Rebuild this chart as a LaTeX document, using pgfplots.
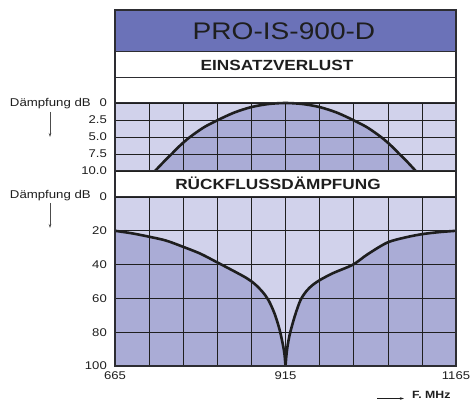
\documentclass[border=0pt]{standalone}
\usepackage{fontspec}
\setmainfont[FakeStretch=1.17]{Liberation Sans}
\usepackage{pgfplots}
\pgfplotsset{compat=1.18}
\usetikzlibrary{arrows.meta}
\definecolor{bandblue}{RGB}{107,114,184}
\definecolor{lightb}{RGB}{209,210,235}
\definecolor{darkb}{RGB}{170,172,214}
\definecolor{txt}{RGB}{30,30,30}
\definecolor{frame}{RGB}{45,45,50}

\pgfplotsset{
  chartgrid/.style={
    scale only axis, width=341pt,
    xmin=665, xmax=1165, y dir=reverse,
    xtick={665,715,...,1165},
    major tick length=0pt,
    grid=major,
    grid style={line width=0.6pt, color=black!88},
    axis line style={line width=1pt, color=frame},
    axis background/.style={fill=lightb},
    axis on top,
    tick label style={font=\fontsize{11.2}{13}\selectfont, text=txt},
    yticklabel style={inner sep=0pt, xshift=-8pt},
    xticklabel style={inner sep=0pt, yshift=-5.5pt},
    clip=false,
  }
}

\begin{document}
\begin{tikzpicture}[x=1pt,y=1pt]
\useasboundingbox (0,0) rectangle (471,401);

% title band
\fill[bandblue] (115,349) rectangle (456,391);
\node[text=txt, font=\fontsize{24}{28}\selectfont] at (284,370) {PRO-IS-900-D};
\node[text=txt, font=\fontsize{14.7}{17}\selectfont\bfseries] at (277,336) {EINSATZVERLUST};
\node[text=txt, font=\fontsize{14.7}{17}\selectfont\bfseries] at (278,217.5) {RÜCKFLUSSDÄMPFUNG};

% insertion loss
\begin{axis}[chartgrid, at={(115pt,230pt)}, anchor=south west, height=68pt,
  ymin=0, ymax=10,
  xticklabels={},
  ytick={0,2.5,5,7.5,10},
  yticklabels={0,2.5,5.0,7.5,10.0}]
  \addplot[fill=darkb, draw=none] coordinates {
    (723.7,10) (736,8.7) (748,7.5) (761,6.2) (775,5) (795,3.6) (816,2.5)
    (840,1.4) (865,0.6) (890,0.15) (915,0) (940,0.15) (965,0.6) (990,1.4)
    (1014,2.5) (1035,3.6) (1055,5) (1069,6.2) (1082,7.5) (1094,8.7) (1106,10)
  } -- cycle;
  \addplot[smooth, line width=2.6pt, color=txt] coordinates {
    (723.7,10) (736,8.7) (748,7.5) (761,6.2) (775,5) (795,3.6) (816,2.5)
    (840,1.4) (865,0.6) (890,0.15) (915,0) (940,0.15) (965,0.6) (990,1.4)
    (1014,2.5) (1035,3.6) (1055,5) (1069,6.2) (1082,7.5) (1094,8.7) (1106,10)
  };
\end{axis}

% return loss
\begin{axis}[chartgrid, at={(115pt,35pt)}, anchor=south west, height=169pt,
  ymin=0, ymax=100,
  xticklabels={665,{},{},{},{},915,{},{},{},{},1165},
  ytick={0,20,40,60,80,100},
  yticklabels={0,20,40,60,80,100}]
  \addplot[fill=darkb, draw=none] coordinates {
    (665,20) (690,21.5) (715,23.5) (740,25.8) (765,29.5) (790,33.5) (814,38.5)
    (840,44) (858,48) (870,51.5) (881,56) (890,61) (899,69) (906,78) (911,87)
    (913.5,93) (915,100) (916.5,93) (918.5,87) (922,80) (929,70) (937,61)
    (946,55.5) (955,52) (966,49) (985,45) (1014,40) (1035,34) (1064,27)
    (1090,24) (1115,22) (1140,20.8) (1165,20) (1165,100) (665,100)
  } -- cycle;
  \addplot[smooth, line width=2.6pt, color=txt] coordinates {
    (665,20) (690,21.5) (715,23.5) (740,25.8) (765,29.5) (790,33.5) (814,38.5)
    (840,44) (858,48) (870,51.5) (881,56) (890,61) (899,69) (906,78) (911,87)
    (913.5,93) (915,100)
  };
  \addplot[smooth, line width=2.6pt, color=txt] coordinates {
    (915,100) (916.5,93) (918.5,87) (922,80) (929,70) (937,61)
    (946,55.5) (955,52) (966,49) (985,45) (1014,40) (1035,34) (1064,27)
    (1090,24) (1115,22) (1140,20.8) (1165,20)
  };
\end{axis}

% outer frame and band separators
\draw[frame, line width=1.2pt] (115,35) rectangle (456,391);
\draw[frame, line width=1pt] (115,349) -- (456,349);
\draw[frame, line width=1pt] (115,323) -- (456,323);

% axis captions
\node[anchor=east, text=txt, font=\fontsize{11.3}{13}\selectfont, inner sep=0pt] at (91,297) {Dämpfung dB};
\node[anchor=east, text=txt, font=\fontsize{11.3}{13}\selectfont, inner sep=0pt] at (91,205) {Dämpfung dB};
\draw[black!70, line width=0.5pt, -{Stealth[length=4pt,width=2.5pt]}] (50,289) -- (50,264);
\draw[black!70, line width=0.5pt, -{Stealth[length=4pt,width=2.5pt]}] (50,198) -- (50,173);
\draw[txt, line width=0.6pt, -{Stealth[length=4pt,width=2.5pt]}] (377,2.5) -- (404,2.5);
\node[anchor=base west, text=txt, font=\fontsize{10.5}{12}\selectfont\bfseries, inner sep=0pt] at (412,2.5) {F.\ MHz};
\end{tikzpicture}
\end{document}
